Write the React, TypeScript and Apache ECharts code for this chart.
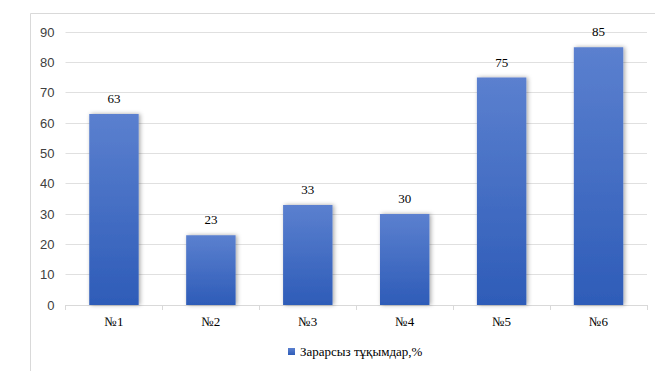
import React, { useEffect, useRef } from "react";
import * as echarts from "echarts";

const categories = ["№1", "№2", "№3", "№4", "№5", "№6"];
const values = [63, 23, 33, 30, 75, 85];
const seriesName = "Зарарсыз тұқымдар,%";

const SERIF = "'Liberation Serif', 'Times New Roman', serif";

export default function App() {
  const ref = useRef<HTMLDivElement>(null);
  useEffect(() => {
    const chart = echarts.init(ref.current!, null, { renderer: "svg" });
    chart.setOption({
      animation: false,
      backgroundColor: "#ffffff",
      graphic: [
        {
          type: "rect",
          shape: { x: 30.5, y: 13.5, width: 700, height: 500 },
          style: { fill: "none", stroke: "#d9d9d9", lineWidth: 1 },
          silent: true,
        },
      ],
      grid: { left: 65.5, right: 8, top: 32, bottom: 66 },
      xAxis: {
        type: "category",
        data: categories,
        axisLine: { lineStyle: { color: "#d9d9d9" } },
        axisTick: { show: true, length: 5, lineStyle: { color: "#d9d9d9" } },
        axisLabel: {
          fontFamily: SERIF,
          fontSize: 13,
          color: "#000000",
          margin: 10,
        },
      },
      yAxis: {
        type: "value",
        min: 0,
        max: 90,
        interval: 10,
        axisLine: { show: false },
        axisTick: { show: false },
        splitLine: { lineStyle: { color: "#e0e0e0" } },
        axisLabel: {
          fontFamily: "'Liberation Sans', sans-serif",
          fontSize: 13,
          color: "#404040",
          margin: 11,
        },
      },
      legend: {
        bottom: 8,
        left: 283,
        itemWidth: 7,
        itemHeight: 7,
        itemGap: 3,
        icon: "rect",
        textStyle: {
          fontFamily: SERIF,
          fontSize: 13,
          color: "#000000",
        },
        data: [seriesName],
      },
      series: [
        {
          type: "bar",
          name: seriesName,
          data: values,
          barWidth: "51%",
          itemStyle: {
            color: new echarts.graphic.LinearGradient(0, 0, 0, 1, [
              { offset: 0, color: "#5b80cf" },
              { offset: 1, color: "#2e5cb8" },
            ]),
            shadowColor: "rgba(0,0,0,0.35)",
            shadowBlur: 4,
            shadowOffsetX: 1.5,
            shadowOffsetY: 0,
          },
          label: {
            show: true,
            position: "top",
            distance: 9,
            fontFamily: SERIF,
            fontSize: 13,
            color: "#000000",
          },
        },
      ],
    });
    return () => chart.dispose();
  }, []);
  return (
    <div
      ref={ref}
      style={{ position: "fixed", left: 0, top: 0, width: 655, height: 371 }}
    />
  );
}
